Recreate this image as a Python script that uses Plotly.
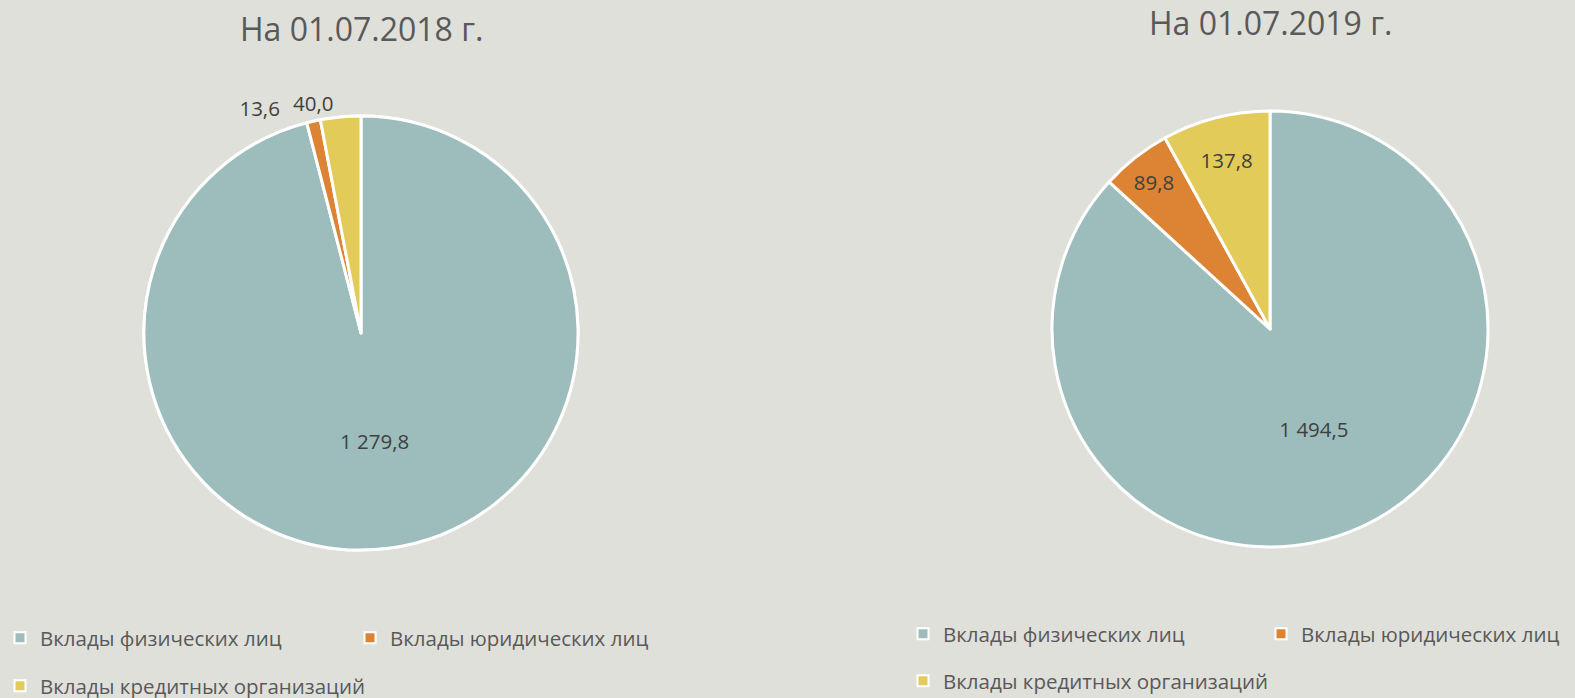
import plotly.graph_objects as go

categories = ["Вклады физических лиц", "Вклады юридических лиц", "Вклады кредитных организаций"]
values_2018 = [1279.8, 13.6, 40.0]
values_2019 = [1494.5, 89.8, 137.8]
text_2018 = ["1 279,8", "13,6\u00a0\u00a0\u00a0\u00a0\u00a0", "40,0"]
text_2019 = ["1 494,5", "89,8", "137,8"]
titles = ["На 01.07.2018 г.", "На 01.07.2019 г."]

colors = ["#9DBDBC", "#DC8433", "#E3CB5A"]
bg = "#E0E0DB"
txt = "#595959"
lbl = "#404040"
font = "Open Sans"
W, H = 1575, 698

dom_2018 = dict(x=[(361 - 217) / W, (361 + 217) / W], y=[1 - 550 / H, 1 - 116 / H])
dom_2019 = dict(x=[(1270 - 218) / W, (1270 + 218) / W], y=[1 - 547 / H, 1 - 111 / H])

fig = go.Figure()


def add_pie(values, text, positions, domain):
    fig.add_trace(go.Pie(
        labels=categories, values=values, text=text, textinfo="text",
        sort=False, direction="clockwise", rotation=0,
        marker=dict(colors=colors, line=dict(color="white", width=3)),
        textposition=positions,
        insidetextorientation="horizontal",
        textfont=dict(family=font, size=20.5, color=lbl),
        outsidetextfont=dict(family=font, size=20.5, color=lbl),
        domain=domain, showlegend=False, hoverinfo="label+value",
    ))


# 2018: labels of the two thin slices are drawn by two identical layers so
# that they are not stacked with a leader line
add_pie(values_2018, text_2018, ["none", "none", "outside"], dom_2018)
add_pie(values_2018, text_2018, ["inside", "outside", "none"], dom_2018)
# 2019
add_pie(values_2019, text_2019, "inside", dom_2019)

# legends (two rows under each pie)
legend_rows = [
    ("legend", [0, 1]), ("legend2", [2]),
    ("legend3", [0, 1]), ("legend4", [2]),
]
for lg, idxs in legend_rows:
    for i in idxs:
        fig.add_trace(go.Scatter(
            x=[None], y=[None], mode="markers", name=categories[i],
            marker=dict(symbol="square", size=11, color=colors[i],
                        line=dict(color="white", width=2)),
            legend=lg, showlegend=True, hoverinfo="skip",
        ))

fig.add_annotation(text=titles[0], x=361 / W, y=1 - 28 / H, xref="paper", yref="paper",
                   xanchor="center", yanchor="middle",
                   showarrow=False, font=dict(family=font, size=32, color=txt))
fig.add_annotation(text=titles[1], x=1270 / W, y=1 - 22 / H, xref="paper", yref="paper",
                   xanchor="center", yanchor="middle",
                   showarrow=False, font=dict(family=font, size=32, color=txt))

legend_common = dict(orientation="h", entrywidthmode="pixels",
                     font=dict(family=font, size=20.5, color=txt),
                     bgcolor="rgba(0,0,0,0)", itemclick=False, itemdoubleclick=False,
                     xref="container", yref="container",
                     xanchor="left", yanchor="middle")
fig.update_layout(
    width=W, height=H,
    paper_bgcolor=bg, plot_bgcolor=bg,
    margin=dict(l=0, r=0, t=0, b=0, autoexpand=False),
    xaxis=dict(visible=False), yaxis=dict(visible=False),
    legend=dict(x=0, y=1 - 638 / H, entrywidth=305, **legend_common),
    legend2=dict(x=0, y=1 - 686 / H, entrywidth=420, **legend_common),
    legend3=dict(x=903 / W, y=1 - 634 / H, entrywidth=313, **legend_common),
    legend4=dict(x=903 / W, y=1 - 681 / H, entrywidth=420, **legend_common),
)

fig.write_html("out.html", config={"displayModeBar": False},
               post_script="document.body.style.margin='0px';document.body.style.overflow='hidden';")
